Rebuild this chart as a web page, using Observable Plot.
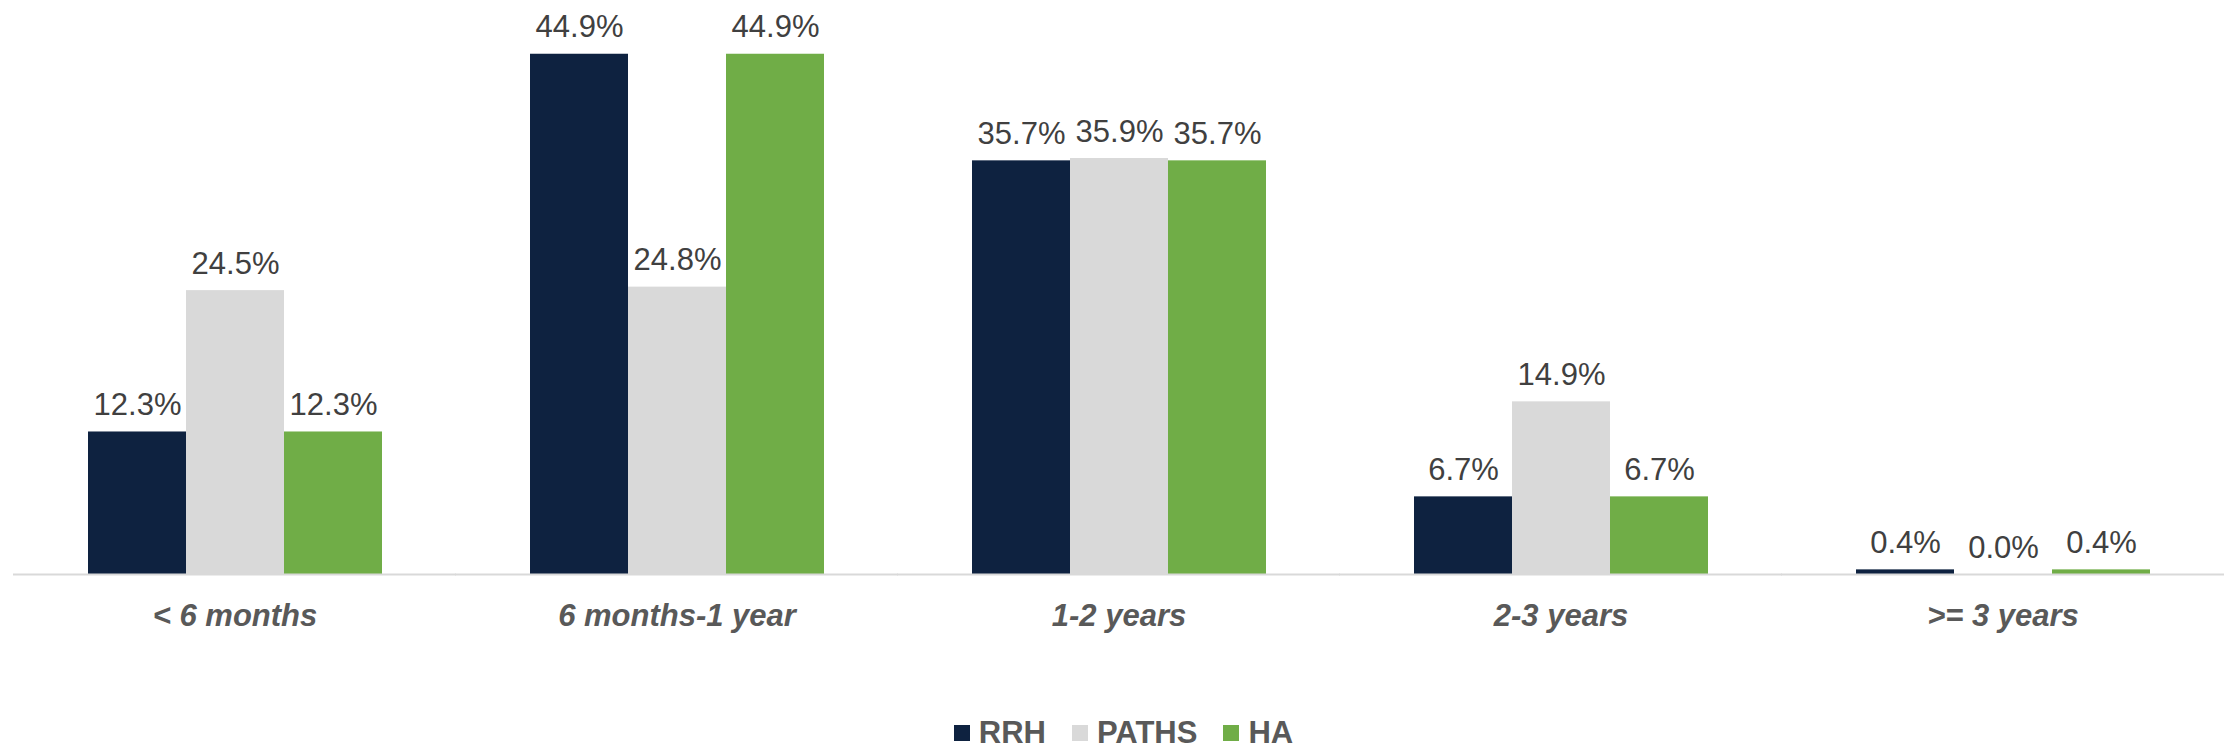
<!DOCTYPE html>
<html>
<head>
<meta charset="utf-8">
<script src="https://cdn.jsdelivr.net/npm/d3@7"></script>
<script src="https://cdn.jsdelivr.net/npm/@observablehq/plot@0.6"></script>
<style>
  html, body { margin: 0; padding: 0; background: #ffffff; }
  #chart svg { display: block; }
  .legend { display: flex; justify-content: center; align-items: center; padding-left: 20px;
    font-family: "Liberation Sans", Arial, sans-serif; font-weight: bold; font-size: 31px; color: #595959;
    height: 32px; line-height: 32px; }
  .legend .item { display: flex; align-items: center; margin: 0 13px; }
  .legend .sw { width: 16px; height: 16px; margin-right: 9px; display: inline-block; }
</style>
</head>
<body>
<div id="chart"></div>
<script>
const categories = ["< 6 months", "6 months-1 year", "1-2 years", "2-3 years", ">= 3 years"];
const series = ["RRH", "PATHS", "HA"];
const rrhValues = [12.3, 44.9, 35.7, 6.7, 0.4];
const pathsValues = [24.5, 24.8, 35.9, 14.9, 0.0];
const haValues = [12.3, 44.9, 35.7, 6.7, 0.4];
const colors = ["#0e2240", "#d9d9d9", "#70ad47"];

const valuesBySeries = [rrhValues, pathsValues, haValues];
const data = [];
categories.forEach((c, i) => {
  series.forEach((s, j) => {
    data.push({category: c, series: s, value: valuesBySeries[j][i]});
  });
});

const plot = Plot.plot({
  width: 2227,
  height: 717,
  marginTop: 41,
  marginBottom: 143,
  marginLeft: 12,
  marginRight: 3,
  style: {fontFamily: "'Liberation Sans', Arial, sans-serif", background: "#ffffff"},
  fx: {domain: categories, paddingInner: 0.333, paddingOuter: 0.1667, label: null},
  x: {domain: series, padding: 0, axis: null},
  y: {domain: [0, 46], axis: null},
  color: {domain: series, range: colors},
  marks: [
    Plot.barY(data, {fx: "category", x: "series", y: "value", fill: "series"}),
    Plot.ruleY([0], {stroke: "#d9d9d9", strokeWidth: 2, insetLeft: -74, insetRight: -74}),
    Plot.text(data, {
      fx: "category", x: "series", y: "value",
      text: d => d.value.toFixed(1) + "%",
      lineAnchor: "bottom", dy: -17, fontSize: 31, fill: "#404040"
    }),
    Plot.axisFx({
      anchor: "bottom", tickSize: 0, tickPadding: 29, label: null,
      fontSize: 31, fontWeight: "bold", fontStyle: "italic", fill: "#595959"
    })
  ]
});
document.getElementById("chart").appendChild(plot);

const legend = document.createElement("div");
legend.className = "legend";
series.forEach((s, i) => {
  const item = document.createElement("span");
  item.className = "item";
  const sw = document.createElement("span");
  sw.className = "sw";
  sw.style.background = colors[i];
  item.appendChild(sw);
  item.appendChild(document.createTextNode(s));
  legend.appendChild(item);
});
document.body.appendChild(legend);
</script>
</body>
</html>
